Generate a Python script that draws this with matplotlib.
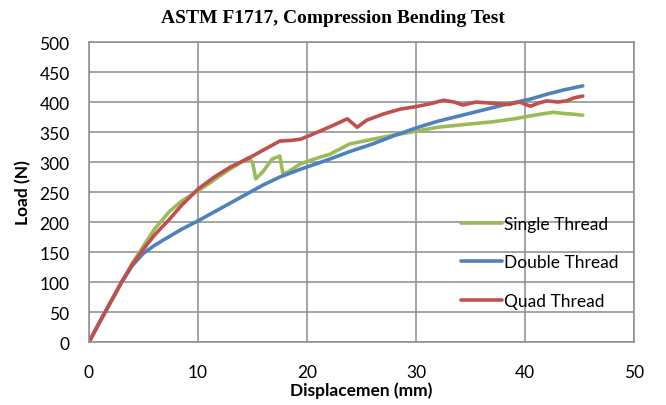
import matplotlib.pyplot as plt

# Displacement (mm) / load (N)
single_x = [0, 1, 2, 3, 4, 5, 6, 7.4, 8.5, 10, 11, 12, 13, 14, 14.6, 15.0, 15.3, 16.0, 16.8, 17.5, 17.8, 18.3,
            19.4, 21, 22.1, 23.9, 26, 28, 30.2, 32, 34.7, 37, 39, 40.5, 41.5, 42.6, 43.5, 44.3, 45.3]
single_y = [0, 34, 67, 100, 132, 160, 188, 218, 235, 252, 264, 277, 289, 300, 307, 300, 272, 285, 305, 310, 280, 284,
            297, 307, 313, 330, 338, 345, 352, 358, 363, 367, 372, 377, 380, 383, 381, 380, 378]

double_x = [0, 1, 2, 3, 4, 5, 6, 7, 8.5, 10, 12, 14, 16, 17.5, 19.4, 22.1, 24, 26, 28, 30.2, 32, 34, 36, 38, 40.5, 42, 43.5, 45.3]
double_y = [0, 34, 67, 100, 128, 148, 161, 172, 188, 202, 222, 242, 262, 275, 288, 305, 318, 330, 344, 358, 368, 377, 386, 395, 405, 413, 420, 427]

quad_x = [0, 1, 2, 3, 4, 5, 6, 7.4, 8.5, 10, 11.5, 13, 14.5, 16, 17.5, 18.5, 19.4, 21, 22.5, 23.7, 24.6, 25.5, 27, 28.5,
          30.2, 31.5, 32.5, 33.5, 34.3, 35.5, 37, 38.5, 39.5, 40.5, 41.2, 42, 43, 43.8, 44.5, 45.3]
quad_y = [0, 34, 67, 100, 130, 155, 178, 205, 228, 255, 275, 292, 305, 320, 335, 336, 338, 350, 362, 372, 358, 370, 380, 388,
          393, 398, 403, 400, 395, 400, 398, 396, 400, 393, 398, 402, 400, 402, 407, 410]

x_ticks = [0, 10, 20, 30, 40, 50]
y_ticks = [0, 50, 100, 150, 200, 250, 300, 350, 400, 450, 500]

plt.rcParams['font.family'] = ['Lato', 'DejaVu Sans']

fig = plt.figure(figsize=(6.66, 4.06), dpi=100)
ax = fig.add_axes([0.1336, 0.155, 0.8184, 0.739])

ax.plot(single_x, single_y, color='#9BBB59', lw=2.6, label='Single Thread', solid_capstyle='round')
ax.plot(double_x, double_y, color='#4F81BD', lw=2.6, label='Double Thread', solid_capstyle='round')
ax.plot(quad_x, quad_y, color='#C0504D', lw=2.6, label='Quad Thread', solid_capstyle='round')

ax.set_xlim(0, 50)
ax.set_ylim(0, 500)
ax.set_xticks(x_ticks)
ax.set_yticks(y_ticks)
ax.grid(True, color='#8c8c8c', lw=1.1)
ax.set_axisbelow(True)
for s in ax.spines.values():
    s.set_color('#8c8c8c')
    s.set_linewidth(1.1)
ax.tick_params(length=0, labelsize=12.5)
ax.tick_params(axis='y', pad=14)
ax.tick_params(axis='x', pad=16)

ax.set_xlabel('Displacemen (mm)', fontsize=12.5, fontweight='bold', labelpad=1)
ax.set_ylabel('Load (N)', fontsize=12.5, fontweight='bold', labelpad=6)
fig.suptitle('ASTM F1717, Compression Bending Test', family='Liberation Serif',
             fontweight='bold', fontsize=14, x=0.5, y=0.975)

ax.legend(frameon=False, fontsize=12.5, loc='upper left', bbox_to_anchor=(452 / 666, 1 - 208 / 406),
          bbox_transform=fig.transFigure, handlelength=2.4, handletextpad=0.1, labelspacing=1.3,
          borderpad=0)

fig.savefig('out.png', dpi=100)
